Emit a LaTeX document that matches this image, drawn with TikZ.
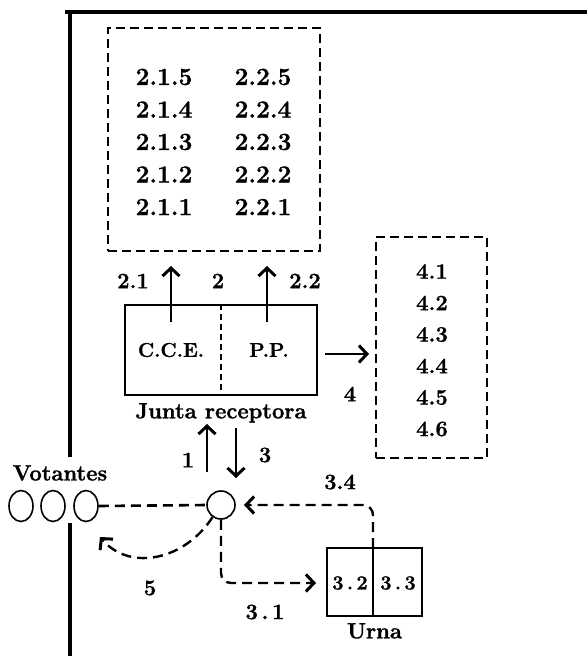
\documentclass[tikz,border=0pt]{standalone}
\usepackage{fontspec}
\setmainfont{Latin Modern Roman}[BoldFeatures={FakeBold=1.3}]
\usepackage{tikz}
\usetikzlibrary{arrows.meta,positioning,shapes.geometric}
\tikzset{
  lab/.style={font=\fontsize{22}{24}\selectfont\bfseries, inner sep=0pt},
  labg/.style={font=\fontsize{24.5}{26}\selectfont\bfseries, inner sep=0pt},
  labs/.style={font=\fontsize{20}{22}\selectfont\bfseries, inner sep=0pt},
  dbox/.style={rectangle, draw, line width=1.8pt, dash pattern=on 9pt off 5pt},
  sbox/.style={rectangle, draw, line width=2pt, inner sep=0pt},
  vot/.style={ellipse, draw, line width=1.6pt, minimum width=24pt,
              minimum height=31pt, inner sep=0pt},
  ar/.style={-{Straight Barb[length=8pt,width=17pt,line width=3pt]}, line width=2.4pt},
  dar/.style={ar, dash pattern=on 10pt off 6pt, rounded corners=10pt},
  dln/.style={line width=2.6pt, dash pattern=on 10pt off 6pt},
  frm/.style={line width=3.5pt},
}

\begin{document}
\begin{tikzpicture}[x=1pt,y=-1pt]
\useasboundingbox (0,0) rectangle (587,656);

% ===================== frame =====================
\draw[frm] (65,12) -- (587,12);
\draw[frm] (70,12) -- (70,457);
\draw[frm] (70,523) -- (70,656);

% ===================== reports box (2.x.x) =====================
\node[dbox, minimum width=212pt, minimum height=223pt] (rep) at (214,139.5) {};
\foreach \n [count=\i] in {5,4,3,2,1} {
  \node[labg] (a\n) at (164,44.5+\i*32.5) {2.1.\n};
  \node[labg] (b\n) at (263,44.5+\i*32.5) {2.2.\n};
}

% ===================== junta receptora =====================
\node[sbox, minimum width=192pt, minimum height=90pt] (junta) at (221,350) {};
\draw[line width=1.6pt, dash pattern=on 6pt off 4pt] (junta.north) -- (junta.south);
\node[labs] (cce) at (171,350) {C.C.E.};
\node[labs] (pp) at (269,350) {P.P.};
\node[lab, below=7pt of junta] (jlbl) {Junta receptora};

% 2.1 / 2.2 up
\coordinate (s21) at (171,322);
\coordinate (e21) at (171,266);
\coordinate (s22) at (267,322);
\coordinate (e22) at (267,266);
\draw[ar] (s21) -- (e21);
\draw[ar] (s22) -- (e22);
\node[lab] (l21) at (133,281) {2.1};
\node[lab] (l2) at (218,281) {2};
\node[lab] (l22) at (305,281) {2.2};

% ===================== results box (4.x) =====================
\node[dbox, minimum width=111pt, minimum height=221pt] (res) at (431.5,347.5) {};
\foreach \n [count=\i] in {1,...,6}
  \node[lab] (r\n) at (432,240+\i*31.5) {4.\n};

\coordinate (s4) at (325,354);
\coordinate (e4) at (369,354);
\draw[ar] (s4) -- (e4);
\node[lab] (l4) at (350,394) {4};

% ===================== voters =====================
\node[lab] (vlbl) at (60,473) {Votantes};
\node[vot] (v1) at (21,506) {};
\node[vot] (v2) at (53,506) {};
\node[vot] (v3) at (86,506) {};
\node[circle, draw, line width=1.6pt, minimum size=28pt, inner sep=0pt] (c) at (221,505) {};

% 1 / 3
\coordinate (s1) at (207,472);
\coordinate (e1) at (207,424);
\coordinate (s3) at (236,428);
\coordinate (e3) at (236,478);
\draw[ar] (s1) -- (e1);
\draw[ar] (s3) -- (e3);
\node[lab] (l1) at (188,460) {1};
\node[lab] (l3) at (265,455) {3};

\draw[dln] (v3.east) -- (c.west);

% ===================== urna =====================
\node[sbox, minimum width=95pt, minimum height=68pt] (urna) at (374.5,582) {};
\draw[line width=1.6pt] (373,548) -- (373,616);
\node[labs] (u2) at (350,583) {3\,.\,2};
\node[labs] (u3) at (398,583) {3\,.\,3};
\node[lab, below=6pt of urna] (ulbl) {Urna};

% 3.1 / 3.4 / 5
\coordinate (t31) at (316,583);
\draw[dar] (c.south) |- (t31);
\node[lab] (l31) at (265,612) {3\,.\,1};
\coordinate (s34) at (373,548);
\coordinate (t34) at (244,505);
\draw[dar] (s34) |- (t34);
\node[lab] (l34) at (340,482) {3.4};
\coordinate (t5) at (100,537);
\draw[ar, dash pattern=on 10pt off 6pt] (c.235) .. controls (185,560) and (130,572) .. (t5);
\node[lab] (l5) at (150,588) {5};

\end{tikzpicture}
\end{document}
